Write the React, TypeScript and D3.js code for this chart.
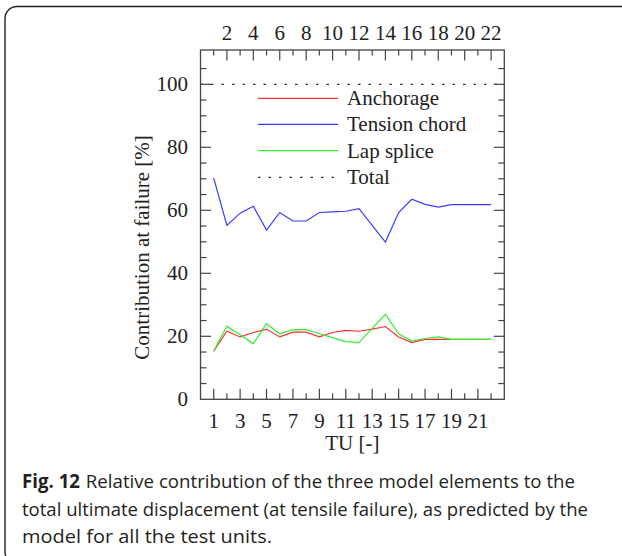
import React from "react";
import * as d3 from "d3";

const tu = [1, 2, 3, 4, 5, 6, 7, 8, 9, 10, 11, 12, 13, 14, 15, 16, 17, 18, 19, 20, 21, 22];
const anchorage = [15.3, 21.6, 19.8, 21.2, 22.3, 19.8, 21.3, 21.3, 19.8, 21.2, 21.9, 21.6, 22.3, 23.1, 19.8, 18.0, 19.0, 19.0, 19.0, 19.0, 19.0, 19.0];
const tensionChord = [70.2, 55.2, 59.1, 61.3, 53.7, 59.3, 56.6, 56.6, 59.3, 59.5, 59.7, 60.5, 55.2, 49.9, 59.3, 63.5, 61.9, 61.0, 61.8, 61.8, 61.8, 61.8];
const lapSplice = [15.3, 23.2, 20.5, 17.7, 24.0, 20.8, 22.1, 22.1, 20.8, 19.6, 18.3, 18.0, 22.5, 27.0, 20.8, 18.5, 19.3, 19.8, 19.0, 19.0, 19.0, 19.0];
const totalValue = 100;

const bottomLabels = [1, 3, 5, 7, 9, 11, 13, 15, 17, 19, 21];
const topLabels = [2, 4, 6, 8, 10, 12, 14, 16, 18, 20, 22];
const yLabels = [0, 20, 40, 60, 80, 100];
const yMinorTicks = [5, 10, 15, 20, 25, 30, 35, 40, 45, 50, 55, 60, 65, 70, 75, 80, 85, 90, 95, 100, 105];

const legendItems = ["Anchorage", "Tension chord", "Lap splice", "Total"];
const captionLines = [
  "Relative contribution of the three model elements to the",
  "total ultimate displacement (at tensile failure), as predicted by the",
  "model for all the test units.",
];

const serif = "'Liberation Serif', 'Times New Roman', serif";
const sans = "'Open Sans', 'Noto Sans', sans-serif";

export default function App() {
  const left = 200.5, right = 504.3, top = 50, bottom = 399.3;
  const x = d3.scaleLinear().domain([0, 23]).range([left, right]);
  const y = d3.scaleLinear().domain([0, 100]).range([bottom, 84.3]);
  const line = d3
    .line<number>()
    .x((_, i) => x(tu[i]))
    .y((d) => y(d));

  const series = [
    { name: "Anchorage", values: anchorage, color: "#ff3030" },
    { name: "Tension chord", values: tensionChord, color: "#3a3aff" },
    { name: "Lap splice", values: lapSplice, color: "#33ee33" },
  ];
  const legendColors = ["#ff3030", "#3a3aff", "#33ee33", "#333"];
  const legendY = [98.3, 124.3, 150.7, 177.3];
  const tickColor = "#444";

  return (
    <svg width={622} height={556} style={{ position: "absolute", left: 0, top: 0 }}>
      <rect x={0} y={0} width={622} height={556} fill="#fff" />
      <path
        d="M 630 6.5 L 17 6.5 A 12 12 0 0 0 5 18.5 L 5 552 A 12 12 0 0 0 17 564"
        fill="none"
        stroke="#222"
        strokeWidth={1.4}
      />
      <line x1={left} x2={right} y1={y(totalValue)} y2={y(totalValue)} stroke="#333" strokeWidth={1.2} strokeDasharray="2.5,8" />
      {series.map((s) => (
        <path key={s.name} d={line(s.values) || ""} fill="none" stroke={s.color} strokeWidth={1.2} />
      ))}
      <rect x={left} y={top} width={right - left} height={bottom - top} fill="none" stroke={tickColor} strokeWidth={1.3} />
      {tu.map((t) => {
        const odd = t % 2 === 1;
        return (
          <g key={"xt" + t}>
            <line x1={x(t)} x2={x(t)} y1={bottom} y2={bottom - (odd ? 10.5 : 6)} stroke={tickColor} strokeWidth={1.2} />
            <line x1={x(t)} x2={x(t)} y1={top} y2={top + (odd ? 5.5 : 10.5)} stroke={tickColor} strokeWidth={1.2} />
          </g>
        );
      })}
      {yMinorTicks.map((v) => {
        const major = v % 20 === 0;
        const len = major ? 10.5 : 6;
        return (
          <g key={"yt" + v}>
            <line x1={left} x2={left + len} y1={y(v)} y2={y(v)} stroke={tickColor} strokeWidth={1.2} />
            <line x1={right} x2={right - len} y1={y(v)} y2={y(v)} stroke={tickColor} strokeWidth={1.2} />
          </g>
        );
      })}
      <g fontFamily={serif} fontSize={21} fill="#222">
        {bottomLabels.map((t) => (
          <text key={"bl" + t} x={x(t)} y={428} textAnchor="middle">{t}</text>
        ))}
        {topLabels.map((t) => (
          <text key={"tl" + t} x={x(t)} y={39.5} textAnchor="middle">{t}</text>
        ))}
        {yLabels.map((v) => (
          <text key={"yl" + v} x={188} y={y(v) + 7} textAnchor="end">{v}</text>
        ))}
        <text x={(left + right) / 2} y={450} textAnchor="middle">TU [-]</text>
        <text transform={`translate(149, ${(51.5 + bottom) / 2 + 22}) rotate(-90)`} textAnchor="middle">
          Contribution at failure [%]
        </text>
      </g>
      <g fontFamily={serif} fontSize={21} fill="#222">
        {legendItems.map((name, i) => (
          <g key={name}>
            <line
              x1={258}
              x2={338}
              y1={legendY[i]}
              y2={legendY[i]}
              stroke={legendColors[i]}
              strokeWidth={1.3}
              strokeDasharray={name === "Total" ? "2.5,8" : undefined}
            />
            <text x={347} y={legendY[i] + 7}>{name}</text>
          </g>
        ))}
      </g>
      <g fontFamily={sans} fontSize={19} fill="#231f20">
        <text x={22} y={488} textLength={553} lengthAdjust="spacingAndGlyphs">
          <tspan fontWeight="bold">Fig. 12</tspan>
          <tspan dx={6}>{captionLines[0]}</tspan>
        </text>
        <text x={22} y={515.5} textLength={566} lengthAdjust="spacingAndGlyphs">{captionLines[1]}</text>
        <text x={22} y={543} textLength={250} lengthAdjust="spacingAndGlyphs">{captionLines[2]}</text>
      </g>
    </svg>
  );
}
